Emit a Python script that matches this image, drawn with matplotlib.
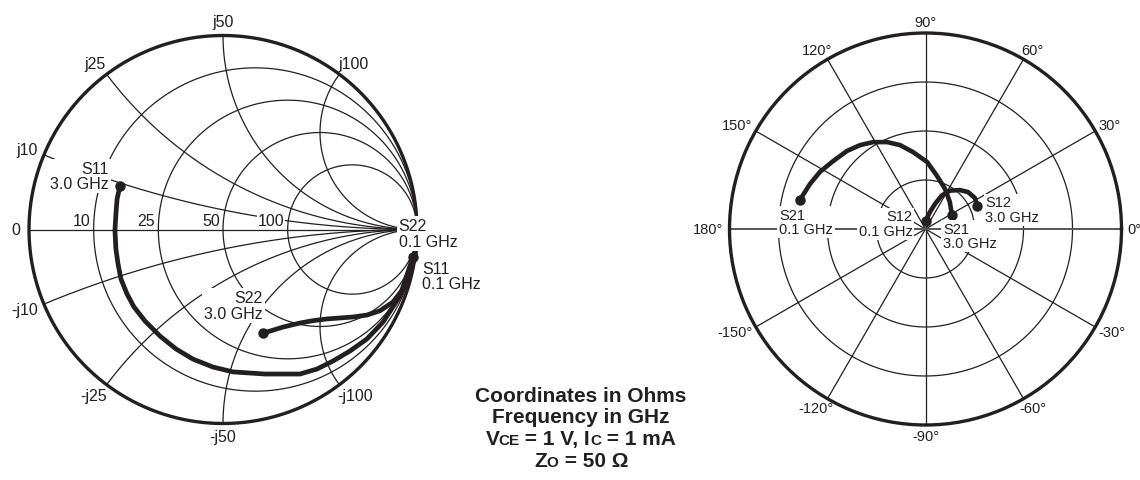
import numpy as np
import matplotlib
matplotlib.use("Agg")
import matplotlib.pyplot as plt

plt.rcParams['font.family'] = ['Liberation Sans', 'DejaVu Sans']

INK = '#231f20'

# Smith chart grid, in ohms (Z0 = 50)
z0 = 50.0
r_grid = [10, 25, 50, 100]
x_grid = [10, 25, 50, 100]

s11_re = [-0.531, -0.546, -0.552, -0.557, -0.552, -0.541, -0.526, -0.495, -0.459,
          -0.402, -0.325, -0.242, -0.155, -0.052, 0.052, 0.216, 0.397, 0.485,
          0.567, 0.655, 0.742, 0.825, 0.912, 0.979]
s11_im = [0.224, 0.157, 0.080, -0.003, -0.101, -0.178, -0.255, -0.332, -0.399,
          -0.472, -0.549, -0.616, -0.668, -0.709, -0.734, -0.745, -0.745, -0.719,
          -0.678, -0.626, -0.564, -0.477, -0.343, -0.142]
s22_re = [0.206, 0.309, 0.397, 0.464, 0.536, 0.603, 0.670, 0.742, 0.809, 0.876,
          0.928, 0.964, 0.990, 0.996, 0.998]
s22_im = [-0.535, -0.503, -0.482, -0.470, -0.461, -0.456, -0.451, -0.441, -0.419,
          -0.374, -0.307, -0.219, -0.142, -0.070, -0.005]

# transmission coefficients on the polar chart (ring units, degrees), 0.1 GHz first
s21_mag = [2.63, 2.53, 2.45, 2.34, 2.26, 2.17, 2.07, 1.94, 1.79, 1.59, 1.37, 1.11,
           0.91, 0.74, 0.61]
s21_ang = [166.9, 158.7, 151.6, 143.7, 135.2, 127.9, 121.1, 113.9, 106.9, 99.2,
           88.7, 77.8, 64.0, 47.8, 27.8]
s12_mag = [0.17, 0.36, 0.55, 0.76, 0.93, 1.06, 1.15, 1.19, 1.16]
s12_ang = [88.6, 75.2, 69.2, 64.1, 57.4, 48.5, 41.0, 32.1, 24.2]

ring_levels = [1, 2, 3]
spoke_angles = [30, 60, 90, 120, 150]
angle_labels = [0, 30, 60, 90, 120, 150, 180, -150, -120, -90, -60, -30]

W, H = 1140, 481
fig = plt.figure(figsize=(W / 100, H / 100), dpi=100)
renderer = fig.canvas.get_renderer()


def label_out(ax, xy, ang, text, gap, fs):
    # put a label just outside a circle, pushed out by its own half size
    a = ax.annotate(text, xy=xy, xytext=(0, 0), textcoords='offset pixels',
                    ha='center', va='center', fontsize=fs, color=INK)
    bb = a.get_window_extent(renderer)
    c, s = np.cos(np.radians(ang)), np.sin(np.radians(ang))
    a.xyann = (c * (gap + bb.width / 2), s * (gap + bb.height / 2 - 2))
    return a


def s_label(ax, xy, text, off, ha, fs):
    ax.annotate(text, xy=xy, xytext=off, textcoords='offset pixels', ha=ha, va='center',
                fontsize=fs, color=INK, linespacing=1.05, zorder=6,
                bbox=dict(boxstyle='square,pad=0.12', fc='white', ec='none'))


# ---------------- Smith chart ----------------
cx, cy, R = 223, 230.5, 194
ax_s = fig.add_axes([0, 0, 480 / W, 1])
ax_s.set_xlim(-cx / R, (480 - cx) / R)
ax_s.set_ylim(-(H - cy) / R, cy / R)
ax_s.axis('off')

th = np.linspace(0, 2 * np.pi, 720)
ax_s.plot(np.cos(th), np.sin(th), color=INK, lw=2.4, zorder=3)
for r in r_grid:
    rn = r / z0
    ax_s.plot(rn / (1 + rn) + np.cos(th) / (1 + rn), np.sin(th) / (1 + rn),
              color=INK, lw=0.9, zorder=2)
res = np.tan(np.linspace(0, np.pi / 2 - 1e-3, 800))
for x in x_grid:
    for sgn in (1, -1):
        g = (res + 1j * sgn * x / z0 - 1) / (res + 1j * sgn * x / z0 + 1)
        ax_s.plot(g.real, g.imag, color=INK, lw=0.9, zorder=2)
ax_s.plot([-1, 1], [0, 0], color=INK, lw=0.9, zorder=3)

# resistance labels on the real axis
for r in r_grid:
    rn = r / z0
    ax_s.annotate(str(r), xy=((rn - 1) / (rn + 1), 0), xytext=(-3, 1), textcoords='offset pixels',
                  ha='right', va='bottom', fontsize=11.5, color=INK, zorder=2.5,
                  bbox=dict(boxstyle='square,pad=0.05', fc='white', ec='none'))
label_out(ax_s, (-1, 0), 180, '0', 9, 11.5)
for x in x_grid:
    for sgn, pre in ((1, 'j'), (-1, '-j')):
        e = (1j * sgn * x / z0 - 1) / (1j * sgn * x / z0 + 1)
        label_out(ax_s, (e.real, e.imag), np.degrees(np.angle(e)), f'{pre}{x}', 8, 11.5)

ax_s.plot(s11_re, s11_im, color=INK, lw=3.4, zorder=4, solid_capstyle='round')
ax_s.plot(s22_re, s22_im, color=INK, lw=3.4, zorder=4, solid_capstyle='round')
ax_s.plot([s11_re[0], s11_re[-1], s22_re[0]], [s11_im[0], s11_im[-1], s22_im[0]],
          'o', ms=6.5, color=INK, zorder=5)

s_label(ax_s, (s11_re[0], s11_im[0]), 'S11\n3.0 GHz', (-11, 10), 'right', 11.5)
s_label(ax_s, (s11_re[-1], s11_im[-1]), 'S11\n0.1 GHz', (9, -19), 'left', 11.5)
s_label(ax_s, (s22_re[0], s22_im[0]), 'S22\n3.0 GHz', (0, 28), 'right', 11.5)
s_label(ax_s, (s22_re[-1], s22_im[-1]), 'S22\n0.1 GHz', (-18, -3), 'left', 11.5)

# ---------------- polar chart ----------------
pcx, pcy, PR = 925.5, 230, 196
ax_p = fig.add_axes([(pcx - PR) / W, (H - pcy - PR) / H, 2 * PR / W, 2 * PR / H],
                    projection='polar')
ax_p.set_ylim(0, 4)
ax_p.set_xticks([])
ax_p.set_yticks([])
ax_p.grid(False)
ax_p.spines['polar'].set_linewidth(2.4)
ax_p.spines['polar'].set_color(INK)

for rr in ring_levels:
    ax_p.plot(th, np.full_like(th, rr), color=INK, lw=0.9, zorder=2)
for a in spoke_angles:
    ax_p.plot([np.radians(a)] * 2, [0, 4], color=INK, lw=0.9, zorder=2)
    ax_p.plot([np.radians(a + 180)] * 2, [0, 4], color=INK, lw=0.9, zorder=2)
ax_p.plot([0, 0], [0, 4], color='#555555', lw=1.4, zorder=2)
ax_p.plot([np.pi, np.pi], [0, 4], color='#555555', lw=1.4, zorder=2)

for a in angle_labels:
    label_out(ax_p, (np.radians(a), 4), a, f'{a}°', 6, 10.5)

ax_p.plot(np.radians(s21_ang), s21_mag, color=INK, lw=3.3, zorder=4, solid_capstyle='round')
ax_p.plot(np.radians(s12_ang), s12_mag, color=INK, lw=3.3, zorder=4, solid_capstyle='round')
ax_p.plot(np.radians([s21_ang[0], s21_ang[-1], s12_ang[0], s12_ang[-1]]),
          [s21_mag[0], s21_mag[-1], s12_mag[0], s12_mag[-1]], 'o', ms=6.5, color=INK, zorder=5)

s_label(ax_p, (np.radians(s21_ang[0]), s21_mag[0]), 'S21\n0.1 GHz', (-21, -22), 'left', 10.5)
s_label(ax_p, (np.radians(s21_ang[-1]), s21_mag[-1]), 'S21\n3.0 GHz', (-9, -21), 'left', 10.5)
s_label(ax_p, (np.radians(s12_ang[0]), s12_mag[0]), 'S12\n0.1 GHz', (-13, -3), 'right', 10.5)
s_label(ax_p, (np.radians(s12_ang[-1]), s12_mag[-1]), 'S12\n3.0 GHz', (8, -4), 'left', 10.5)

# ---------------- conditions block ----------------
BIG, SMALL = 15, 11


def width_px(s, fs):
    t = fig.text(0, 0, '.' + s + '.', fontsize=fs, fontweight='bold')
    w1 = t.get_window_extent(renderer).width
    t.set_text('..')
    w2 = t.get_window_extent(renderer).width
    t.remove()
    return w1 - w2


def rich_line(pieces, xc, base):
    ws = [width_px(s, fs) for s, fs in pieces]
    x = xc - sum(ws) / 2
    for (s, fs), w in zip(pieces, ws):
        fig.text(x / W, 1 - base / H, s, fontsize=fs, fontweight='bold', color=INK,
                 ha='left', va='baseline')
        x += w


rich_line([('Coordinates in Ohms', BIG)], 581, 402)
rich_line([('Frequency in GHz', BIG)], 581, 423.5)
rich_line([('V', BIG), ('CE', SMALL), (' = 1 V, I', BIG), ('C', SMALL), (' = 1 mA', BIG)], 581, 445)
rich_line([('Z', BIG), ('O', SMALL), (' = 50 Ω', BIG)], 581, 467)

fig.savefig('out.png', dpi=100)
